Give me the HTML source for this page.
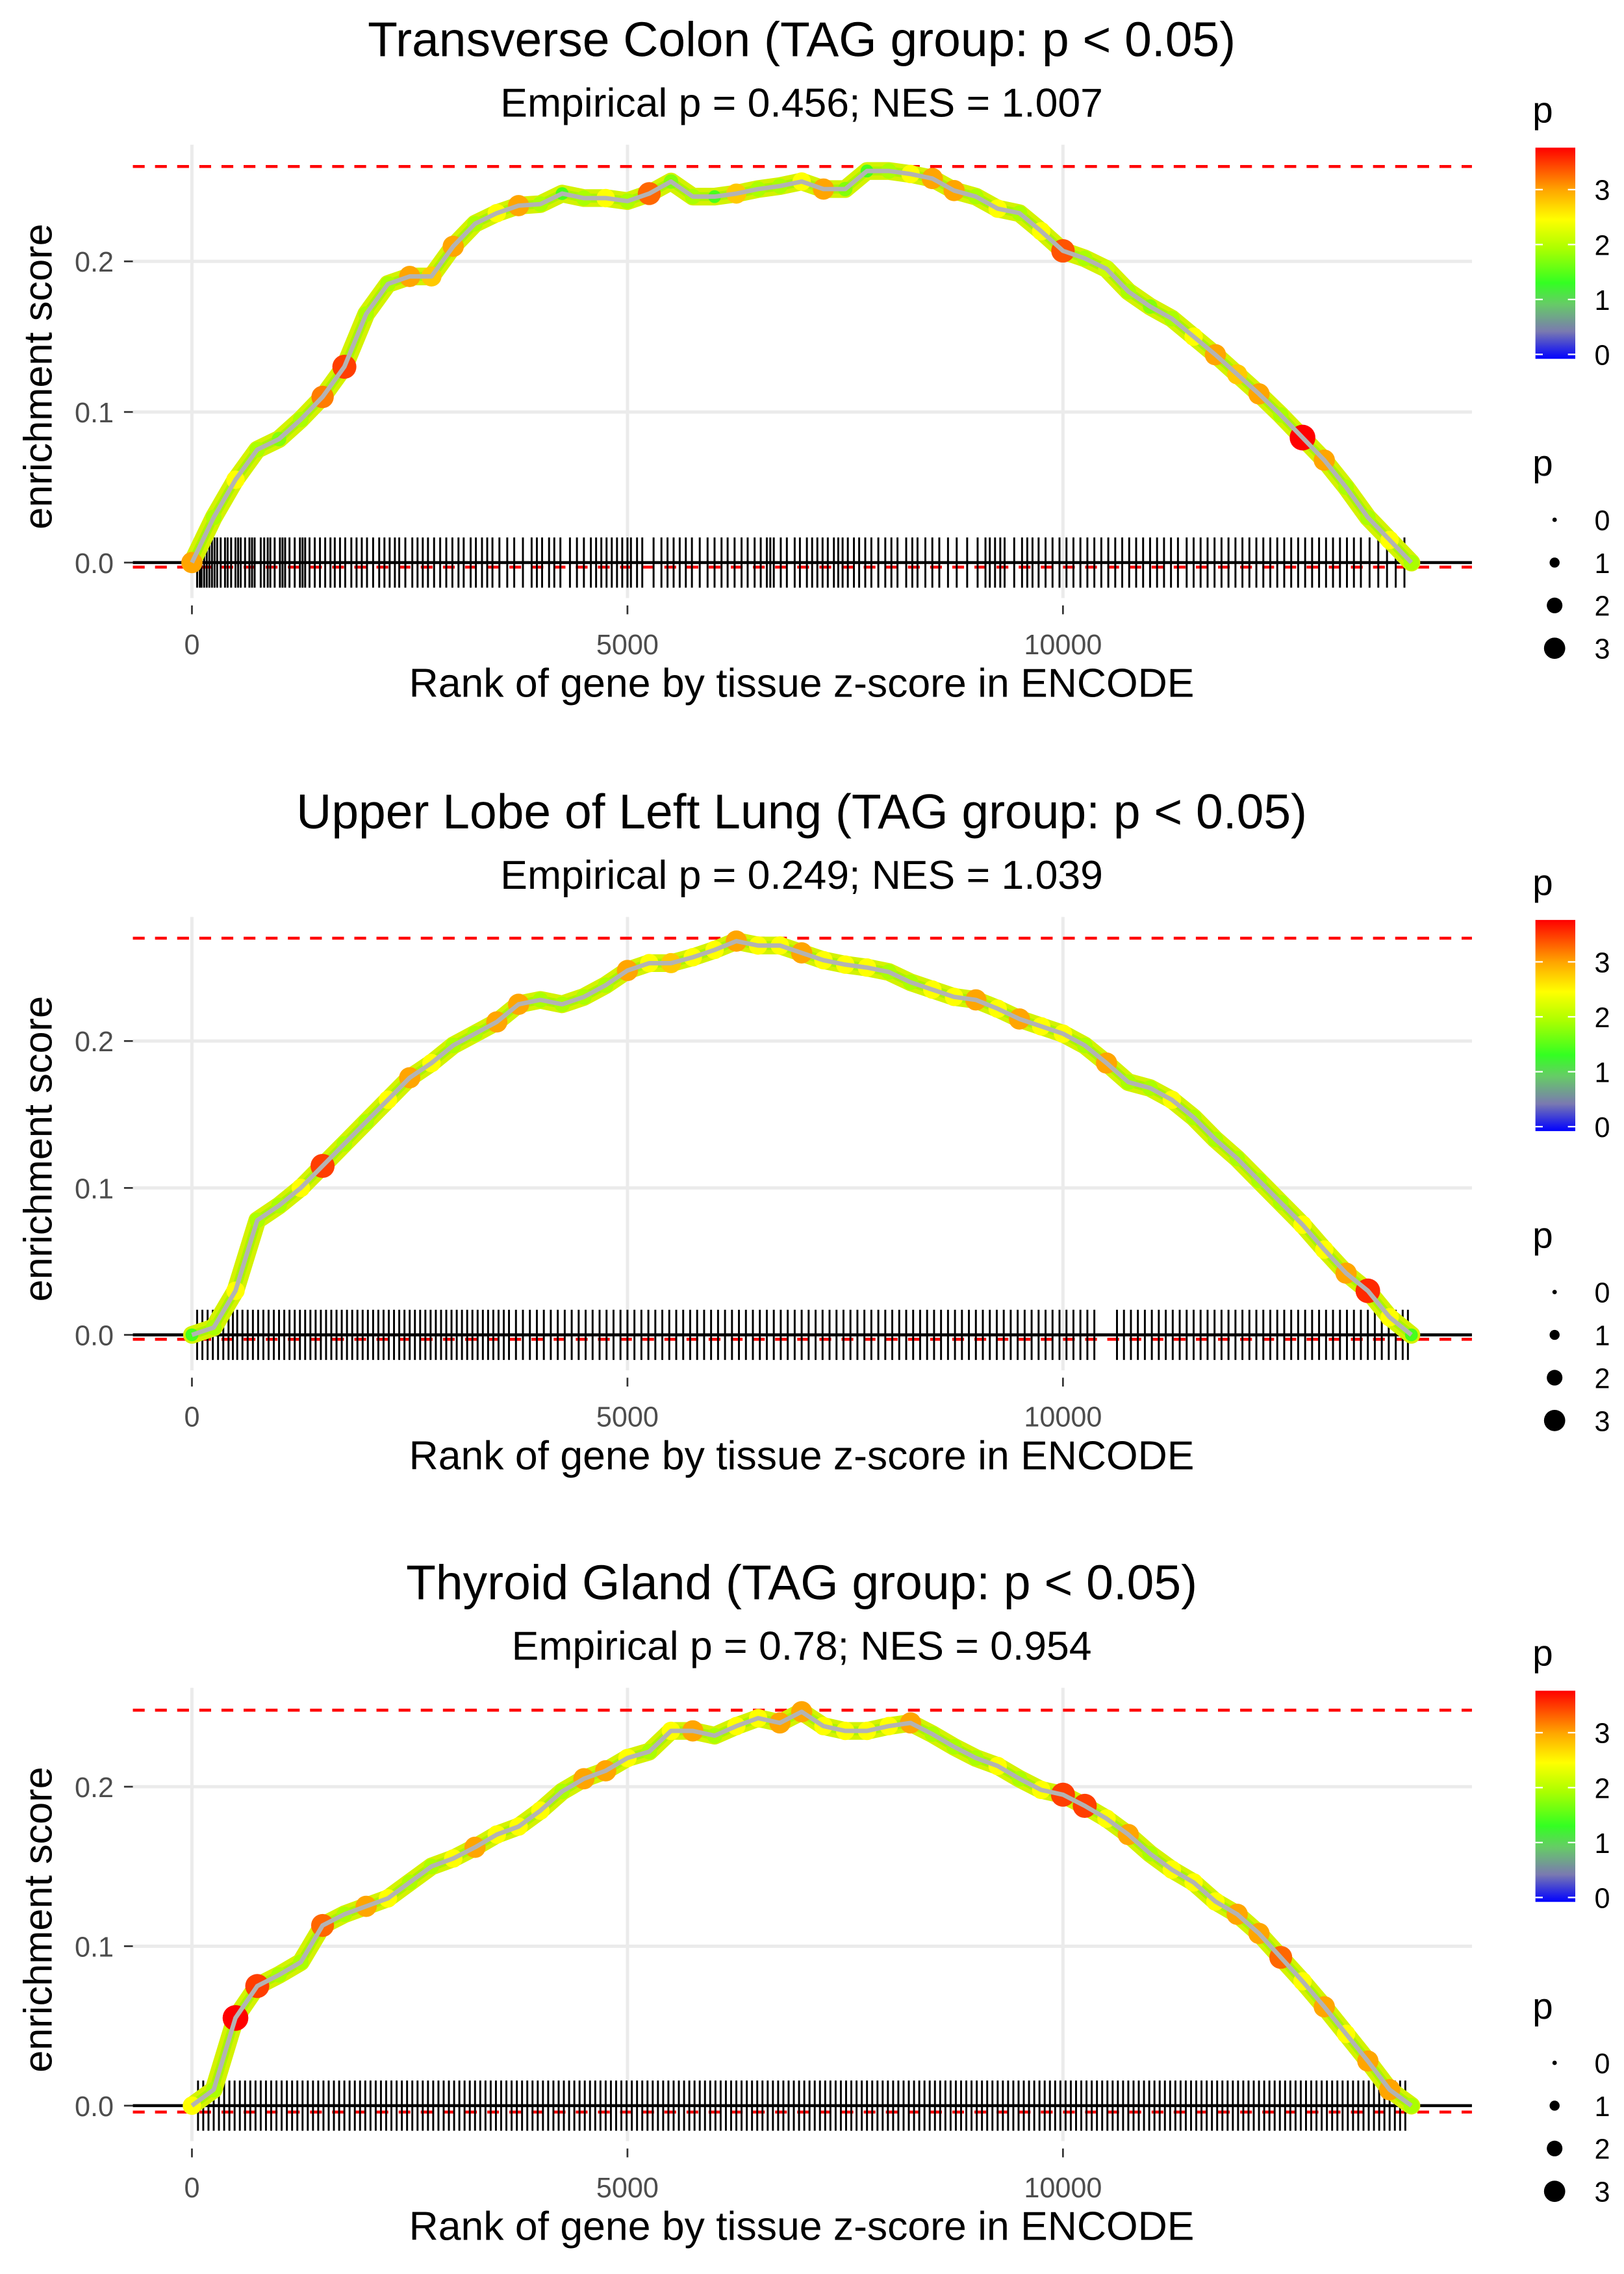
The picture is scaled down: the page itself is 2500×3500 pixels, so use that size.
<!DOCTYPE html>
<html><head><meta charset="utf-8">
<style>
html,body{margin:0;padding:0;background:#fff;}
svg{display:block;font-family:"Liberation Sans",sans-serif;}
</style></head>
<body>
<svg id="chart" width="2500" height="3500" viewBox="0 0 1100 1540" preserveAspectRatio="none" xmlns="http://www.w3.org/2000/svg">
<defs>
<linearGradient id="pgrad" x1="0" y1="1" x2="0" y2="0">
<stop offset="0" stop-color="#0000ff"/>
<stop offset="0.13" stop-color="#7a7ab0"/>
<stop offset="0.26" stop-color="#66cc66"/>
<stop offset="0.36" stop-color="#33ff22"/>
<stop offset="0.52" stop-color="#aaff00"/>
<stop offset="0.66" stop-color="#ffff00"/>
<stop offset="0.8" stop-color="#ffa500"/>
<stop offset="1" stop-color="#ff0000"/>
</linearGradient>
</defs>
</svg>
<script>
// ---- data ----
const ranks = [0,250,500,750,1000,1250,1500,1750,2000,2250,2500,2750,3000,3250,3500,3750,4000,4250,4500,4750,5000,5250,5500,5750,6000,6250,6500,6750,7000,7250,7500,7750,8000,8250,8500,8750,9000,9250,9500,9750,10000,10250,10500,10750,11000,11250,11500,11750,12000,12250,12500,12750,13000,13250,13500,13750,14000];
const esColon = [0,0.03,0.055,0.075,0.082,0.095,0.11,0.13,0.165,0.185,0.19,0.19,0.21,0.225,0.232,0.237,0.238,0.245,0.242,0.242,0.24,0.245,0.253,0.243,0.243,0.245,0.248,0.25,0.253,0.248,0.248,0.26,0.26,0.258,0.255,0.247,0.243,0.235,0.232,0.22,0.207,0.202,0.195,0.18,0.17,0.162,0.15,0.138,0.125,0.112,0.098,0.083,0.068,0.05,0.03,0.015,0];
const esLung = [0,0.005,0.03,0.078,0.088,0.1,0.115,0.13,0.145,0.16,0.175,0.185,0.197,0.205,0.213,0.225,0.228,0.225,0.23,0.238,0.248,0.253,0.253,0.257,0.262,0.268,0.265,0.265,0.26,0.255,0.252,0.25,0.247,0.24,0.235,0.23,0.228,0.222,0.215,0.21,0.205,0.197,0.185,0.172,0.168,0.16,0.148,0.133,0.12,0.105,0.09,0.075,0.058,0.042,0.03,0.012,0];
const esThyroid = [0,0.01,0.055,0.075,0.082,0.09,0.113,0.12,0.125,0.13,0.14,0.15,0.155,0.162,0.17,0.175,0.185,0.197,0.205,0.21,0.218,0.222,0.235,0.235,0.232,0.238,0.243,0.24,0.247,0.238,0.235,0.235,0.238,0.24,0.233,0.225,0.218,0.213,0.205,0.198,0.195,0.188,0.18,0.17,0.158,0.148,0.14,0.128,0.12,0.108,0.093,0.078,0.062,0.045,0.028,0.01,0];
const pColon = [3,2,2.5,2,1.8,2,3.2,3.5,2,2,3,2.8,3,2,2.5,3,2,1.5,2,2.5,2,3.3,1.8,2,1.5,2.8,2,2,2.5,3,1.8,1.5,2,2.5,3,3,2,2.5,2,2.5,3.4,2,2.2,2,1.8,2,2.5,3,2.8,3,2,3.8,3,2,2,2.5,2];
const pLung = [1.5,2,2.5,2,2,2.5,3.5,2,2,2.5,3,2.5,2,2,3,3,2,2,2,2,3,2.5,2.8,2.5,2.5,3,2.5,2.5,3,2.5,2.5,2.5,2,2,2.5,2.5,3,2.5,3,2.5,2.5,2,3,2,2,2.5,2,2,2,2,2,2.5,2.5,3,3.6,2.5,1.5];
const pThyroid = [2.5,2,3.8,3.5,2,2,3.3,2,3,2.5,2,2,2.5,3,2.5,2.5,2.5,2,3,3,2.5,2,2.5,3,2,2.5,2.5,3,3,2.5,2.5,2.5,2.5,3,2,2,2,2.5,2,2.5,3.5,3.5,2.5,3,2,2.5,2.5,2.5,3,3,3.3,2.5,3,2.5,3,3,2];
const rugColon = [60,90,110,140,170,200,230,260,290,330,380,410,450,500,530,560,610,660,690,720,790,830,870,900,950,1010,1040,1070,1120,1180,1240,1270,1300,1350,1410,1470,1530,1590,1640,1700,1760,1830,1890,1950,2010,2080,2150,2210,2270,2330,2380,2450,2530,2590,2650,2710,2780,2850,2920,2990,3060,3120,3200,3260,3330,3390,3450,3530,3620,3700,3800,3900,3960,4020,4100,4160,4230,4340,4420,4500,4580,4640,4700,4760,4820,4880,4940,5000,5040,5110,5170,5300,5390,5460,5530,5600,5670,5740,5830,5920,6000,6080,6150,6230,6310,6380,6460,6530,6600,6640,6680,6760,6830,6920,6980,7060,7120,7180,7240,7300,7370,7420,7470,7530,7600,7660,7730,7800,7880,7960,8030,8100,8200,8270,8330,8420,8500,8580,8680,8780,8900,9020,9110,9160,9220,9280,9330,9440,9530,9590,9650,9720,9800,9880,9960,10040,10120,10200,10280,10360,10440,10520,10600,10680,10760,10840,10920,11000,11080,11160,11240,11320,11420,11500,11580,11660,11740,11820,11900,11980,12060,12140,12220,12300,12380,12460,12540,12620,12700,12780,12860,12940,13020,13100,13180,13260,13340,13420,13520,13620,13720,13820,13920];
const rugLung = [60,120,180,240,300,360,420,470,520,580,640,700,760,820,880,940,1000,1060,1120,1180,1240,1300,1360,1420,1480,1540,1600,1660,1720,1780,1840,1900,1960,2020,2080,2140,2200,2260,2320,2380,2440,2500,2560,2620,2680,2740,2800,2860,2920,2980,3040,3100,3160,3220,3280,3340,3400,3460,3520,3580,3640,3720,3800,3880,3960,4040,4120,4200,4280,4360,4440,4520,4600,4680,4760,4840,4920,5000,5080,5160,5240,5320,5400,5480,5560,5640,5720,5800,5880,5960,6040,6120,6200,6280,6360,6440,6520,6600,6680,6760,6840,6920,7000,7080,7160,7240,7320,7400,7480,7560,7640,7720,7800,7880,7960,8040,8120,8200,8280,8360,8440,8520,8600,8680,8760,8840,8920,9000,9080,9160,9240,9320,9400,9480,9560,9640,9720,9800,9880,9960,10040,10120,10200,10280,10360,10620,10700,10780,10860,10940,11020,11100,11180,11260,11340,11420,11500,11580,11660,11740,11820,11900,11980,12060,12140,12220,12300,12380,12460,12540,12620,12700,12780,12860,12940,13020,13100,13180,13260,13340,13420,13500,13580,13660,13740,13820,13900,13960];
const rugThyroid = [70,130,190,250,310,370,430,490,550,610,670,730,790,850,910,970,1030,1090,1150,1210,1270,1330,1390,1450,1510,1570,1630,1690,1750,1810,1870,1930,1990,2050,2110,2170,2230,2290,2350,2410,2470,2530,2590,2650,2710,2770,2830,2890,2950,3010,3070,3130,3190,3250,3310,3370,3430,3490,3550,3610,3670,3730,3790,3850,3910,3970,4030,4090,4150,4210,4270,4330,4390,4450,4510,4570,4630,4690,4750,4810,4870,4930,4990,5050,5110,5170,5230,5290,5350,5410,5470,5530,5590,5650,5710,5770,5830,5890,5950,6010,6070,6130,6190,6250,6310,6370,6430,6490,6550,6610,6670,6730,6790,6850,6910,6970,7030,7090,7150,7210,7270,7330,7390,7450,7510,7570,7630,7690,7750,7810,7870,7930,7990,8050,8110,8170,8230,8290,8350,8410,8470,8530,8590,8650,8710,8770,8830,8890,8950,9010,9070,9130,9190,9250,9310,9370,9430,9490,9550,9610,9670,9730,9790,9850,9910,9970,10030,10090,10150,10210,10270,10330,10390,10450,10510,10570,10630,10690,10750,10810,10870,10930,10990,11050,11110,11170,11230,11290,11350,11410,11470,11530,11590,11650,11710,11770,11830,11890,11950,12010,12070,12130,12190,12250,12310,12370,12430,12490,12550,12610,12670,12730,12790,12850,12910,12970,13030,13090,13150,13210,13270,13330,13390,13450,13510,13570,13630,13690,13750,13810,13870,13930];
const titles = ["Transverse Colon (TAG group: p < 0.05)","Upper Lobe of Left Lung (TAG group: p < 0.05)","Thyroid Gland (TAG group: p < 0.05)"];
const subtitles = ["Empirical p = 0.456; NES = 1.007","Empirical p = 0.249; NES = 1.039","Empirical p = 0.78; NES = 0.954"];
const maxES = [0.263,0.27,0.248];
const minES = [-0.003,-0.003,-0.004];
const xTicks = [0,5000,10000];
const yTicks = [0,0.1,0.2];
const legendTicks = [0,1,2,3];

const esAll=[esColon,esLung,esThyroid], pAll=[pColon,pLung,pThyroid], rugAll=[rugColon,rugLung,rugThyroid];
const panelGeo=[{off:0,zero:381,per:102},{off:523,zero:904,per:99.5},{off:1045,zero:1426,per:108}];

const svg=document.getElementById('chart');
const NS='http://www.w3.org/2000/svg';
function mk(tag,attrs,parent){const e=document.createElementNS(NS,tag);for(const k in attrs)e.setAttribute(k,attrs[k]);(parent||svg).appendChild(e);return e;}
function pcolor(p){
  const stops=[[0,[0,0,255]],[0.5,[122,122,176]],[1,[102,204,102]],[1.4,[51,255,34]],[2,[170,255,0]],[2.5,[255,255,0]],[3,[255,165,0]],[3.8,[255,0,0]]];
  for(let i=1;i<stops.length;i++){if(p<=stops[i][0]){const a=stops[i-1],b=stops[i];const t=(p-a[0])/(b[0]-a[0]);const c=a[1].map((v,j)=>Math.round(v+(b[1][j]-v)*t));return `rgb(${c})`;}}
  return 'rgb(255,0,0)';
}
function prad(p){return 1.5+p*1.9;}

for(let k=0;k<3;k++){
  const g=panelGeo[k], off=g.off;
  const X=v=>130+v/5000*295;
  const Y=v=>g.zero-v*g.per*10;
  const grp=mk('g',{});
  
  
  const t=mk('text',{x:543,y:off+38,'text-anchor':'middle','font-size':33,fill:'#000'},grp);t.textContent=titles[k];
  
  const st=mk('text',{x:543,y:off+79,'text-anchor':'middle','font-size':27.5,fill:'#000'},grp);st.textContent=subtitles[k];
  
  const top=off+98,bot=off+405;
  yTicks.forEach(v=>{const l=mk('line',{x1:90,x2:997,y1:Y(v),y2:Y(v),stroke:'#ebebeb','stroke-width':2.2},grp);
    
    const tl=mk('text',{x:77,y:Y(v)+7,'text-anchor':'end','font-size':19,fill:'#4d4d4d'},grp);tl.textContent=v.toFixed(1);
    
    mk('line',{x1:84,x2:90,y1:Y(v),y2:Y(v),stroke:'#333','stroke-width':1.2},grp);});
  xTicks.forEach(v=>{const l=mk('line',{x1:X(v),x2:X(v),y1:top,y2:bot,stroke:'#ebebeb','stroke-width':2.2},grp);
    
    mk('line',{x1:X(v),x2:X(v),y1:bot+5,y2:bot+11,stroke:'#333','stroke-width':1.2},grp);
    const tl=mk('text',{x:X(v),y:off+443,'text-anchor':'middle','font-size':19,fill:'#4d4d4d'},grp);tl.textContent=String(v);
    });
  [maxES[k],minES[k]].forEach(v=>{const l=mk('line',{x1:90,x2:997,y1:Y(v),y2:Y(v),stroke:'#ff0000','stroke-width':2,'stroke-dasharray':'8,7'},grp);
    });
  const rg=mk('g',{},grp);
  rugAll[k].forEach(v=>{mk('line',{x1:X(v),x2:X(v),y1:Y(0)-17,y2:Y(0)+17,stroke:'#000','stroke-width':1.3},rg);});
  const zl=mk('line',{x1:90,x2:997,y1:Y(0),y2:Y(0),stroke:'#000','stroke-width':2},grp);
  
  const pts=ranks.map((r,i)=>X(r)+','+Y(esAll[k][i])).join(' ');
  const band=mk('polyline',{points:pts,fill:'none',stroke:'#d4f200','stroke-width':12,'stroke-linejoin':'round','stroke-linecap':'round'},grp);
  
  const band2=mk('polyline',{points:pts,fill:'none',stroke:'#aaf500','stroke-width':6,'stroke-linejoin':'round'},grp);
  
  ranks.forEach((r,i)=>{const c=mk('circle',{cx:X(r),cy:Y(esAll[k][i]),r:prad(pAll[k][i]),fill:pcolor(pAll[k][i])},grp);
    });
  const line=mk('polyline',{points:pts,fill:'none',stroke:'#b3b3b3','stroke-width':3,'stroke-linejoin':'round'},grp);
  
  const xt=mk('text',{x:543,y:off+472,'text-anchor':'middle','font-size':27.5,fill:'#000'},grp);xt.textContent='Rank of gene by tissue z-score in ENCODE';
  
  const yt=mk('text',{x:0,y:0,'text-anchor':'middle','font-size':27,fill:'#000',transform:`translate(35,${off+255}) rotate(-90)`},grp);yt.textContent='enrichment score';
  
  const lg=mk('g',{},grp);
  const lt=mk('text',{x:1038,y:off+83,'font-size':25,fill:'#000'},lg);lt.textContent='p';
  mk('rect',{x:1040,y:off+100,width:27,height:143,fill:'url(#pgrad)'},lg);
  const cb=v=>off+240-v*37.2;
  legendTicks.forEach(v=>{mk('line',{x1:1040,x2:1045,y1:cb(v),y2:cb(v),stroke:'#fff','stroke-width':1},lg);
    mk('line',{x1:1062,x2:1067,y1:cb(v),y2:cb(v),stroke:'#fff','stroke-width':1},lg);
    const tl=mk('text',{x:1080,y:cb(v)+7,'font-size':19,fill:'#000'},lg);tl.textContent=String(v);});
  const sg=mk('g',{},grp);
  const s2=mk('text',{x:1038,y:off+322,'font-size':25,fill:'#000'},sg);s2.textContent='p';
  legendTicks.forEach((v,i)=>{const yy=off+352+i*29;mk('circle',{cx:1053,cy:yy,r:prad(v),fill:'#000'},sg);
    const tl=mk('text',{x:1080,y:yy+7,'font-size':19,fill:'#000'},sg);tl.textContent=String(v);});
}
</script>
</body></html>
